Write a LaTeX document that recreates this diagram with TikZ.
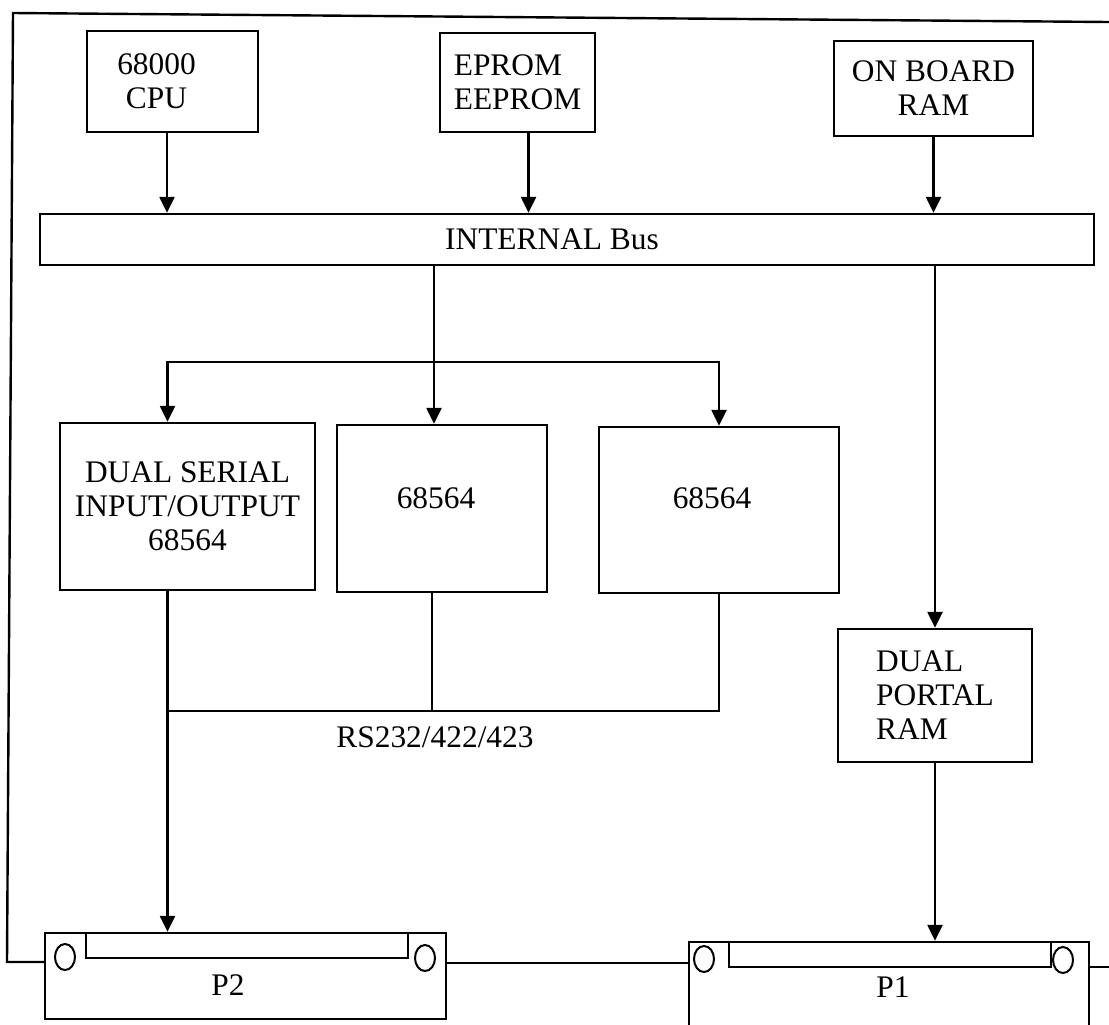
\documentclass[tikz,border=0pt]{standalone}
\usepackage{fontspec}
\setmainfont{Liberation Serif}
\usetikzlibrary{arrows.meta}

\begin{document}
\begin{tikzpicture}[
  x=0.5pt, y=-0.5pt,
  font=\fontsize{15.7}{17}\selectfont,
  line width=1.2pt,
  box/.style={draw, inner sep=0pt, align=center},
  sized/.style 2 args={minimum width=#1, minimum height=#2},
  wire/.style={line width=1.2pt},
  pin/.style={line width=1pt},
  flow/.style={-{Triangle[length=8pt, width=7.5pt]}, line width=1.2pt}
]
  \useasboundingbox (0,0) rectangle (1109,1024);

  % top row
  \node[box, sized={85.5pt}{50.5pt}, label={[xshift=-8pt, align=center]center:{68000\\CPU}}] (cpu) at (172.5,81.5) {};
  \node[box, sized={77.5pt}{49.5pt}, align=left] (eprom) at (517.5,82.5) {EPROM\\EEPROM};
  \node[box, sized={99.5pt}{47.5pt}] (ram) at (933.5,88.5) {ON BOARD\\RAM};

  \node[box, sized={527pt}{25.5pt}, label={[xshift=-7.5pt]center:INTERNAL Bus}] (bus) at (567,239.5) {};

  % serial chips
  \node[box, sized={127.5pt}{83.5pt}] (dsio) at (187.5,506.5) {DUAL SERIAL\\INPUT/OUTPUT\\68564};
  \node[box, sized={105pt}{83.5pt}, label={[xshift=-3pt, yshift=5pt]center:68564}] (chipa) at (442,508.5) {};
  \node[box, sized={120pt}{83pt}, label={[xshift=-3.5pt, yshift=6pt]center:68564}] (chipb) at (719,510) {};

  \node[box, sized={97pt}{66.5pt}, align=left] (dpram) at (935,695.5) {DUAL\\PORTAL\\RAM};

  % connectors
  \node[box, sized={200.5pt}{43pt}, label={[xshift=-8.75pt, yshift=-4.5pt]center:P2}] (p2) at (245.5,976) {};
  \node[box, sized={200pt}{51pt}, label={[xshift=2pt, yshift=3pt]center:P1}] (p1) at (889,993) {};
  \draw[wire] (86,933) rectangle (408,958);
  \draw[wire] (729,942) rectangle (1051,967);
  \draw[pin] (65,957) ellipse [x radius=5pt, y radius=6.5pt];
  \draw[pin] (425,958) ellipse [x radius=5pt, y radius=6.5pt];
  \draw[pin] (704,959) ellipse [x radius=5pt, y radius=6.5pt];
  \draw[pin] (1063,960) ellipse [x radius=5pt, y radius=6.5pt];

  % board outline
  \coordinate (tl) at (13,13);
  \coordinate (tr) at (1109,22);
  \coordinate (bl) at (7,962);
  \coordinate (re) at (1109,967);
  \draw[wire] (tr) -- (tl) -- (bl) -- (bl -| p2.west);
  \draw[wire] (p2.east |- 0,963) -- (p1.west |- 0,963);
  \draw[wire] (p1.east |- re) -- (re);

  % bus arrows
  \draw[flow] ([xshift=-2.75pt]cpu.south) -- ([xshift=-2.75pt]cpu.south |- bus.north);
  \draw[flow] ([xshift=5.5pt]eprom.south) -- ([xshift=5.5pt]eprom.south |- bus.north);
  \draw[flow] (ram.south) -- (ram.south |- bus.north);

  \coordinate (fork) at (434,362);
  \draw[flow] (bus.south -| fork) -- (fork |- chipa.north);
  \draw[flow] (fork) -| ([xshift=-10pt]dsio.north);
  \draw[flow] (fork) -| (chipb.north);
  \draw[flow] (bus.south -| dpram.north) -- (dpram.north);
  \draw[flow] (dpram.south) -- (dpram.south |- p1.north);

  % RS lines
  \coordinate (rs) at (167,711);
  \draw[flow] ([xshift=-10pt]dsio.south) -- ([xshift=-10pt]dsio.south |- p2.north);
  \draw[wire] (chipb.south) |- (rs);
  \draw[wire] ([xshift=-5pt]chipa.south) -- ([xshift=-5pt]chipa.south |- rs);
  \node (rslabel) at (435,737) {RS232/422/423};
\end{tikzpicture}
\end{document}
